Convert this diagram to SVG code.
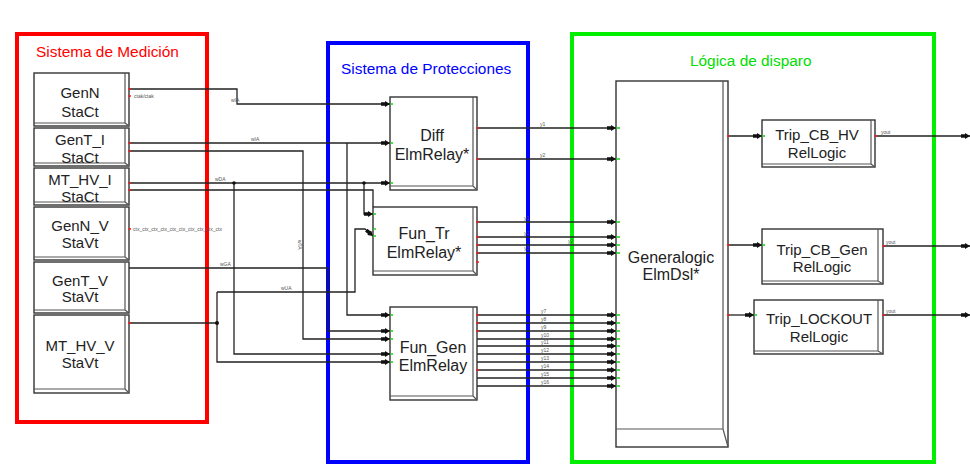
<svg xmlns="http://www.w3.org/2000/svg" width="970" height="472" viewBox="0 0 970 472">
<defs>
<style>
.frame{fill:none;stroke-width:4}
.blk{fill:#fff;stroke:#333;stroke-width:1.4}
.sh{fill:none;stroke:#555;stroke-width:1.2}
.w{fill:none;stroke:#222;stroke-width:1.3}
.t{font-family:"Liberation Sans",Arial,sans-serif;fill:#222;text-anchor:middle}
.bt{font-size:15px}
.rt{font-size:16px}
.sm{font-family:"Liberation Sans",Arial,sans-serif;font-size:5px;fill:#555}
.ti{stroke-width:1.6;fill:none}
.in{stroke:#2c2}
.out{stroke:#e22}
</style>
<marker id="ar" markerWidth="9" markerHeight="6" refX="9" refY="3" orient="auto" markerUnits="userSpaceOnUse">
<path d="M0,1.2 L4,1.2 L4,0 L9,3 L4,6 L4,4.8 L0,4.8 z" fill="#111"/>
</marker>
</defs>

<g id="frames">
<rect class="frame" x="17" y="34" width="190" height="388" stroke="#f00"/>
<rect class="frame" x="328" y="43" width="200" height="419" stroke="#00f"/>
<rect class="frame" x="572" y="34" width="362" height="428" stroke="#0e0"/>
<text x="36" y="57" font-family="Liberation Sans,Arial,sans-serif" font-size="15.4" fill="#f00">Sistema de Medición</text>
<text x="341" y="74" font-family="Liberation Sans,Arial,sans-serif" font-size="15.4" fill="#00f">Sistema de Protecciones</text>
<text x="690" y="66" font-family="Liberation Sans,Arial,sans-serif" font-size="15.4" fill="#0d0">Lógica de disparo</text>
</g>

<g id="connectors">
<path class="w" d="M129,89 H237 V104 H390" marker-end="url(#ar)"/>
<path class="w" d="M129,143 H390" marker-end="url(#ar)"/>
<path class="w" d="M129,151 H303 V339 H390" marker-end="url(#ar)"/>
<path class="w" d="M129,183 H390" marker-end="url(#ar)"/>
<path class="w" d="M129,190 H373 V207"/>
<path class="w" d="M234,183 V354 H390" marker-end="url(#ar)"/>
<path class="w" d="M364,183 V214 H373" marker-end="url(#ar)"/>
<path class="w" d="M347,143 V315 H390" marker-end="url(#ar)"/>
<path class="w" d="M129,268 H328 V331 H390" marker-end="url(#ar)"/>
<path class="w" d="M129,323 H217"/>
<path class="w" d="M217,292 V362 H390" marker-end="url(#ar)"/>
<path class="w" d="M217,292 H355 V229 H365 L373,236" marker-end="url(#ar)"/>
<circle cx="234" cy="183" r="1.8" fill="#111"/>
<circle cx="364" cy="183" r="1.8" fill="#111"/>
<circle cx="217" cy="323" r="2" fill="#111"/>
<circle cx="425" cy="183" r="2" fill="#111"/>
<path class="w" d="M477,128 H616" marker-end="url(#ar)"/>
<path class="w" d="M477,159 H616" marker-end="url(#ar)"/>
<path class="w" d="M477,222 H616" marker-end="url(#ar)"/>
<path class="w" d="M477,237 H616" marker-end="url(#ar)"/>
<path class="w" d="M477,245 H616" marker-end="url(#ar)"/>
<path class="w" d="M477,253 H616" marker-end="url(#ar)"/>
<path class="w" d="M477,315 H616" marker-end="url(#ar)"/>
<path class="w" d="M477,323 H616" marker-end="url(#ar)"/>
<path class="w" d="M477,331 H616" marker-end="url(#ar)"/>
<path class="w" d="M477,339 H616" marker-end="url(#ar)"/>
<path class="w" d="M477,346 H616" marker-end="url(#ar)"/>
<path class="w" d="M477,354 H616" marker-end="url(#ar)"/>
<path class="w" d="M477,362 H616" marker-end="url(#ar)"/>
<path class="w" d="M477,370 H616" marker-end="url(#ar)"/>
<path class="w" d="M477,378 H616" marker-end="url(#ar)"/>
<path class="w" d="M477,386 H616" marker-end="url(#ar)"/>
<path class="w" d="M728,136 H762" marker-end="url(#ar)"/>
<path class="w" d="M728,245 H762" marker-end="url(#ar)"/>
<path class="w" d="M728,315 H754" marker-end="url(#ar)"/>
<path class="w" d="M875,136 H970" marker-end="url(#ar)"/>
<path class="w" d="M883,246 H970" marker-end="url(#ar)"/>
<path class="w" d="M883,315 H970" marker-end="url(#ar)"/>
<text class="sm" x="134" y="98">ctak/ctak</text>
<text class="sm" x="133" y="231">ctx_ctx_ctx_ctx_ctx_ctx_ctx_ctx_ctx_ctx</text>
<text class="sm" x="231" y="102">wIA</text>
<text class="sm" x="251" y="141">wIA</text>
<text class="sm" x="215" y="181">wDA</text>
<text class="sm" x="220" y="266">wGA</text>
<text class="sm" x="281" y="290">wUA</text>
<text class="sm" transform="translate(298,240) rotate(90)">wTA</text>
<text class="sm" x="540" y="126">y1</text>
<text class="sm" x="540" y="157">y2</text>
<text class="sm" x="524" y="220">y1</text>
<text class="sm" x="524" y="235">y2</text>
<text class="sm" x="524" y="250">y3</text>
<text class="sm" x="568" y="243">y2</text>
<text class="sm" x="541" y="313">y7</text>
<text class="sm" x="541" y="321">y8</text>
<text class="sm" x="541" y="329">y9</text>
<text class="sm" x="541" y="337">y10</text>
<text class="sm" x="541" y="344">y11</text>
<text class="sm" x="541" y="352">y12</text>
<text class="sm" x="541" y="360">y13</text>
<text class="sm" x="541" y="368">y14</text>
<text class="sm" x="541" y="376">y15</text>
<text class="sm" x="541" y="384">y16</text>
<text class="sm" x="712" y="134">y13</text>
<text class="sm" x="712" y="243">y14</text>
<text class="sm" x="712" y="313">y15</text>
<text class="sm" x="881" y="134">yout</text>
<text class="sm" x="886" y="244">yout</text>
<text class="sm" x="886" y="313">yout</text>
</g>

<g id="GenN">
<rect class="blk" x="34" y="73" width="95" height="53"/>
<path class="sh" d="M125,73 V123 H34 M125,123 L129,126"/>
<text class="t bt" x="80" y="98">GenN</text><text class="t bt" x="80" y="117">StaCt</text>
<path class="ti out" d="M128,89 h3 M128,96 h3"/>
</g>
<g id="GenT_I">
<rect class="blk" x="34" y="128" width="95" height="38"/>
<path class="sh" d="M125,128 V163 H34 M125,163 L129,166"/>
<text class="t bt" x="80" y="145">GenT_I</text><text class="t bt" x="80" y="163">StaCt</text>
<path class="ti out" d="M128,143 h3 M128,151 h3"/>
</g>
<g id="MT_HV_I">
<rect class="blk" x="34" y="168" width="95" height="37"/>
<path class="sh" d="M125,168 V202 H34 M125,202 L129,205"/>
<text class="t bt" x="80" y="185">MT_HV_I</text><text class="t bt" x="80" y="202">StaCt</text>
<path class="ti out" d="M128,183 h3 M128,190 h3"/>
</g>
<g id="GenN_V">
<rect class="blk" x="34" y="207" width="95" height="53"/>
<path class="sh" d="M125,207 V257 H34 M125,257 L129,260"/>
<text class="t bt" x="80" y="231">GenN_V</text><text class="t bt" x="80" y="248">StaVt</text>
<path class="ti out" d="M128,229 h3"/>
</g>
<g id="GenT_V">
<rect class="blk" x="34" y="262" width="95" height="51"/>
<path class="sh" d="M125,262 V310 H34 M125,310 L129,313"/>
<text class="t bt" x="80" y="286">GenT_V</text><text class="t bt" x="80" y="302">StaVt</text>
</g>
<g id="MT_HV_V">
<rect class="blk" x="34" y="315" width="95" height="78"/>
<path class="sh" d="M125,315 V389 H34 M125,389 L129,393"/>
<text class="t bt" x="80" y="351">MT_HV_V</text><text class="t bt" x="80" y="368">StaVt</text>
<path class="ti out" d="M128,323 h3"/>
</g>

<g id="Diff">
<rect class="blk" x="390" y="97" width="87" height="93"/>
<path class="sh" d="M473,97 V186 H390 M473,186 L477,190"/>
<text class="t rt" x="432" y="141">Diff</text><text class="t rt" x="432" y="160">ElmRelay*</text>
<path class="ti in" d="M390,104 h3 M390,143 h3 M390,183 h3"/>
<path class="ti out" d="M476,128 h3 M476,159 h3"/>
</g>
<g id="Fun_Tr">
<rect class="blk" x="373" y="207" width="104" height="68"/>
<path class="sh" d="M473,207 V271 H373 M473,271 L477,275"/>
<text class="t rt" x="424" y="239">Fun_Tr</text><text class="t rt" x="424" y="258">ElmRelay*</text>
<path class="ti in" d="M373,214 h3 M373,229 h3 M373,236 h3"/>
<path class="ti out" d="M476,222 h3 M476,237 h3 M476,245 h3 M476,253 h3 M476,262 h3"/>
</g>
<g id="Fun_Gen">
<rect class="blk" x="390" y="307" width="87" height="93"/>
<path class="sh" d="M473,307 V396 H390 M473,396 L477,400"/>
<text class="t rt" x="433" y="353">Fun_Gen</text><text class="t rt" x="433" y="371">ElmRelay</text>
<path class="ti in" d="M390,315 h3 M390,331 h3 M390,339 h3 M390,354 h3 M390,362 h3"/>
<path class="ti out" d="M476,315 h3 M476,323 h3 M476,331 h3 M476,370 h3"/>
</g>
<g id="Generalogic">
<rect class="blk" x="616" y="81" width="112" height="366"/>
<path class="sh" d="M723,81 V429 H616 M723,429 L728,447"/>
<text class="t rt" x="671" y="263">Generalogic</text><text class="t rt" x="671" y="280">ElmDsl*</text>
<path class="ti in" d="M616,128 h4 M616,159 h4 M616,222 h4 M616,237 h4 M616,245 h4 M616,253 h4 M616,315 h4 M616,323 h4 M616,331 h4 M616,339 h4 M616,346 h4 M616,354 h4 M616,362 h4 M616,370 h4 M616,378 h4 M616,386 h4"/>
<path class="ti out" d="M727,136 h3 M727,245 h3 M727,315 h3"/>
</g>
<g id="Trip_CB_HV">
<rect class="blk" x="762" y="120" width="113" height="47"/>
<path class="sh" d="M871,120 V164 H762 M871,164 L875,167"/>
<text class="t bt" x="817" y="140">Trip_CB_HV</text><text class="t bt" x="817" y="158">RelLogic</text>
<path class="ti in" d="M762,136 h3"/><path class="ti out" d="M874,136 h3"/>
</g>
<g id="Trip_CB_Gen">
<rect class="blk" x="762" y="229" width="121" height="55"/>
<path class="sh" d="M878,229 V281 H762 M878,281 L883,284"/>
<text class="t bt" x="822" y="255">Trip_CB_Gen</text><text class="t bt" x="822" y="272">RelLogic</text>
<path class="ti in" d="M762,245 h3"/><path class="ti out" d="M882,246 h3"/>
</g>
<g id="Trip_LOCKOUT">
<rect class="blk" x="754" y="300" width="129" height="54"/>
<path class="sh" d="M878,300 V351 H754 M878,351 L883,354"/>
<text class="t bt" x="819" y="324">Trip_LOCKOUT</text><text class="t bt" x="819" y="342">RelLogic</text>
<path class="ti in" d="M754,315 h3"/><path class="ti out" d="M882,315 h3"/>
</g>
</svg>
